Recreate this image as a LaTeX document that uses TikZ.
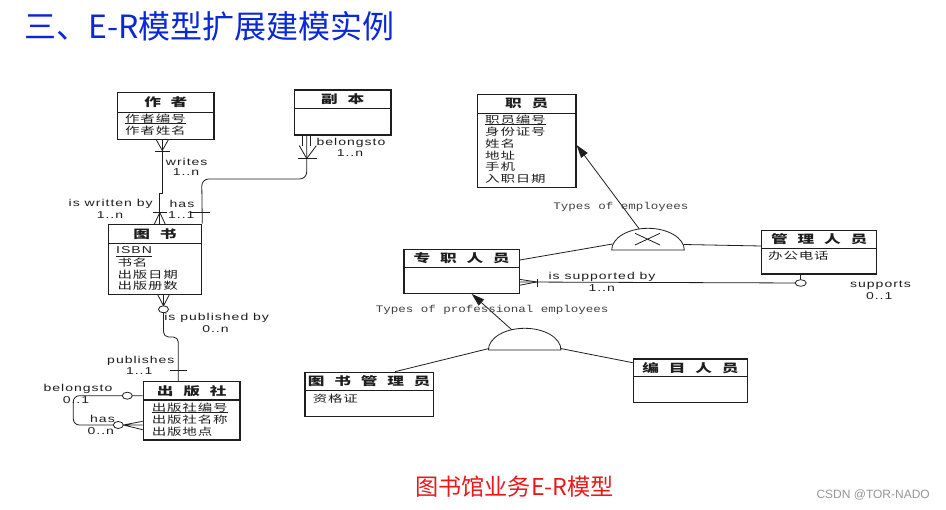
\documentclass[tikz,border=0pt]{standalone}
\usepackage{fontspec}
\setmainfont{Liberation Sans}
\newfontfamily\cjk{Noto Sans CJK SC}
\newfontfamily\cjkt[FakeStretch=1.45,LetterSpace=85]{Noto Sans CJK SC}
\newfontfamily\cjka[FakeStretch=1.45,LetterSpace=8]{Noto Sans CJK SC}
\newfontfamily\lab[FakeStretch=1.4,LetterSpace=10]{Liberation Sans}
\newfontfamily\mono[FakeStretch=1.25]{Liberation Mono}
\usetikzlibrary{arrows.meta,fit}
\definecolor{tblue}{RGB}{10,40,215}
\definecolor{cred}{RGB}{235,25,25}
\definecolor{wgrey}{RGB}{150,150,150}
\definecolor{ink}{RGB}{30,30,30}
\tikzset{
 ent/.style={draw=ink, line width=1.2pt, inner sep=0pt},
 conn/.style={draw=ink, line width=0.8pt},
 ttl/.style={font=\cjkt\bfseries\fontsize{11.5}{11.5}\selectfont, inner sep=0pt, text=ink},
 attr/.style={font=\cjka\fontsize{10}{10}\selectfont, anchor=west, inner sep=0pt, text=ink},
 lbl/.style={font=\lab\fontsize{10}{10}\selectfont, inner sep=0pt, text=ink},
 mlbl/.style={font=\mono\fontsize{10}{10}\selectfont, inner sep=0pt, text=black!75},
 arr/.style={conn, -{Triangle[length=13pt,width=8pt]}},
 circ/.style={conn, fill=white},
 uline/.style={draw=ink, line width=0.7pt},
}
\newcommand{\erent}[7]{%
  \node[ent, fit={(#2,#3) (#4,#5)}] (#1) {};
  \draw[ent] (#2,#6) -- (#4,#6);
  \node[ttl] (#1-title) at ({(#2+#4)/2},{(#3+#6)/2}) {#7};
}
\begin{document}
\begin{tikzpicture}[x=1pt,y=-1pt]
\useasboundingbox (0,0) rectangle (946,510);
\fill[white] (0,0) rectangle (946,510);

\node[font=\cjk\fontsize{32}{32}\selectfont, text=tblue, anchor=west, inner sep=0pt] (title) at (24,26) {三、E-R模型扩展建模实例};
\node[font=\cjk\fontsize{23.2}{23.2}\selectfont, text=cred, inner sep=0pt] (cap) at (514.5,487) {图书馆业务E-R模型};
\node[font=\fontsize{12}{12}\selectfont, text=wgrey, anchor=east, inner sep=0pt] (wm) at (930,495) {CSDN @TOR-NADO};

% ---------- entities ----------
\erent{zuozhe}{117.7}{92.7}{214}{139.3}{112.3}{作者}
\node[attr] (za1) at (125,118.5) {作者编号};
\draw[uline] (za1.west |- 0,123) -- (za1.east |- 0,123);
\node[attr] (za2) at (125,130.5) {作者姓名};

\erent{fuben}{294.3}{90}{391}{135}{108.3}{副本}

\erent{tushu}{108.3}{224.3}{201.7}{294.3}{243.3}{图书}
\node[anchor=west, inner sep=0pt, font=\lab\fontsize{10}{10}\selectfont, text=ink] (tb1) at (116,250.5) {ISBN};
\draw[uline] (tb1.west |- 0,256) -- (tb1.east |- 0,256);
\node[attr] (tb2) at (117.3,262.3) {书名};
\node[attr] (tb3) at (117.3,274.3) {出版日期};
\node[attr] (tb4) at (117.3,286) {出版册数};

\erent{chubanshe}{143.3}{381.7}{240}{440}{400}{出版社}
\node[attr] (cb1) at (151.7,408) {出版社编号};
\draw[uline] (cb1.west |- 0,412.8) -- (cb1.east |- 0,412.8);
\node[attr] (cb2) at (151.7,420) {出版社名称};
\node[attr] (cb3) at (151.7,431.7) {出版地点};

\erent{zhiyuan}{477.3}{94.3}{576}{187.7}{113.3}{职员}
\node[attr] (zy1) at (485,119.3) {职员编号};
\draw[uline] (zy1.west |- 0,124) -- (zy1.east |- 0,124);
\node[attr] (zy2) at (485,131.4) {身份证号};
\node[attr] (zy3) at (485,143.3) {姓名};
\node[attr] (zy4) at (485,155.2) {地址};
\node[attr] (zy5) at (485,167.1) {手机};
\node[attr] (zy6) at (485,179) {入职日期};

\erent{guanli}{761.7}{230.7}{876.7}{274}{248.3}{管理人员}
\node[attr] (gl1) at (768,255.5) {办公电话};

\erent{zhuanzhi}{404}{249.3}{519.3}{293.3}{267.7}{专职人员}

\erent{tsgly}{305}{372.3}{433.3}{416.7}{390.7}{图书管理员}
\node[attr] (ts1) at (312.7,399) {资格证};

\erent{bianmu}{633.3}{359}{747.7}{402.3}{376.7}{编目人员}

% ---------- 作者 - 图书 ----------
\draw[conn] (zuozhe.south -| 162.3,0) -- (162.3,193) -- (159.8,193) -- (tushu.north -| 159.8,0);
\draw[conn] (156,139.3) -- (162.3,150.5) -- (168.6,139.3);
\draw[conn] (155,151) -- (170,151);
\draw[conn] (154.3,224.3) -- (159.8,212.5) -- (165.3,224.3);
\draw[conn] (153,212.5) -- (167,212.5);
\node[lbl] (l1) at (186.7,161.7) {writes};
\node[lbl] (l2) at (186,172.3) {1..n};
\node[lbl] (l3) at (110.7,204) {is written by};
\node[lbl] (l4) at (110,215) {1..n};
\node[lbl] (l5) at (182,204) {has};
\node[lbl] (l6) at (181.3,215) {1..1};

% ---------- 副本 - 图书 ----------
\draw[conn, rounded corners=7pt] (fuben.south -| 306.7,0) -- (306.7,179) -- (201.7,179) -- (tushu.north east);
\draw[conn] (302.7,135) -- (302.7,145.7) (310.7,135) -- (310.7,145.7);
\draw[conn] (299.3,145.7) -- (306.7,158.5) -- (316.3,145.7);
\draw[conn] (298,158.8) -- (317,158.8);
\draw[conn] (189.5,212.5) -- (210,212.5);
\node[lbl] (l7) at (351,142.7) {belongsto};
\node[lbl] (l8) at (350,153.3) {1..n};

% ---------- 图书 - 出版社 ----------
\draw[conn, rounded corners=5pt] (tushu.south -| 163.5,0) -- (163.5,337) -- (178.3,337) -- (chubanshe.north -| 178.3,0);
\draw[conn] (157.5,294.3) -- (163.5,305.8) -- (169.5,294.3);
\draw[circ] (163.5,309.3) ellipse [x radius=5pt, y radius=3.5pt];
\draw[conn] (170,370) -- (187.3,370);
\node[lbl] (l9) at (216.7,318.3) {is published by};
\node[lbl] (l10) at (215.5,329.3) {0..n};
\node[lbl] (l11) at (140.8,361) {publishes};
\node[lbl] (l12) at (139.2,371.3) {1..1};

% ---------- 出版社 self ----------
\draw[conn, rounded corners=6pt] (chubanshe.west |- 0,395.7) -- (73.3,395.7) -- (73.3,425) -- (118.3,425);
\draw[conn] (123.3,425) -- (chubanshe.west |- 0,421.3) (123.3,425) -- (chubanshe.west |- 0,425) (123.3,425) -- (chubanshe.west |- 0,429.7);
\draw[circ] (127.3,395.7) ellipse [x radius=5pt, y radius=3.5pt];
\draw[circ] (118.3,425) ellipse [x radius=5pt, y radius=3.5pt];
\node[lbl] (l13) at (78,389) {belongsto};
\node[lbl] (l14) at (76,400) {0..1};
\node[lbl] (l15) at (102.5,419.3) {has};
\node[lbl] (l16) at (100.8,430.7) {0..n};

% ---------- generalisation 1 ----------
\draw[conn, fill=white] (611.7,250) arc[start angle=180, end angle=0, x radius=36.3pt, y radius=21.7pt] -- cycle;
\draw[conn] (635,233.3) -- (660,245) (635,245) -- (660,233.3);
\coordinate (isa1-t) at (639.3,229);
\coordinate (isa1-l) at (612.5,244);
\coordinate (isa1-r) at (683.5,244.5);
\draw[arr] (isa1-t) -- (zhiyuan.east |- 0,145);
\draw[conn] (zhuanzhi.east |- 0,260) -- (isa1-l);
\draw[conn] (isa1-r) -- (guanli.west |- 0,246);
\node[mlbl] (m1) at (620.8,206.7) {Types of employees};

% ---------- 专职 - 管理 ----------
\coordinate (c-sup) at (800.7,283);
\draw[conn] (zhuanzhi.east |- 0,282) -- (c-sup);
\draw[conn] (guanli.south -| c-sup) -- (c-sup);
\draw[circ] (c-sup) ellipse [x radius=5.5pt, y radius=3.3pt];
\draw[conn] (519.3,279.3) -- (536.7,282) -- (519.3,285.3);
\draw[conn] (537.7,279) -- (537.7,287.3);
\node[lbl] (r1) at (602,276.7) {is supported by};
\node[lbl] (r2) at (601.7,287.7) {1..n};
\node[lbl] (r3) at (880.5,285) {supports};
\node[lbl] (r4) at (879.2,295.7) {0..1};

% ---------- generalisation 2 ----------
\draw[conn, fill=white] (488.4,350) arc[start angle=180, end angle=0, x radius=36.3pt, y radius=21.7pt] -- cycle;
\coordinate (isa2-t) at (511.7,329.7);
\coordinate (isa2-l) at (489,348.5);
\coordinate (isa2-r) at (560.5,348.5);
\draw[arr] (isa2-t) -- (zhuanzhi.south -| 471.7,0);
\draw[conn] (isa2-l) -- (tsgly.north -| 395,0);
\draw[conn] (isa2-r) -- (bianmu.west |- 0,362.7);
\node[mlbl] (m2) at (492.2,310) {Types of professional employees};
\end{tikzpicture}
\end{document}
